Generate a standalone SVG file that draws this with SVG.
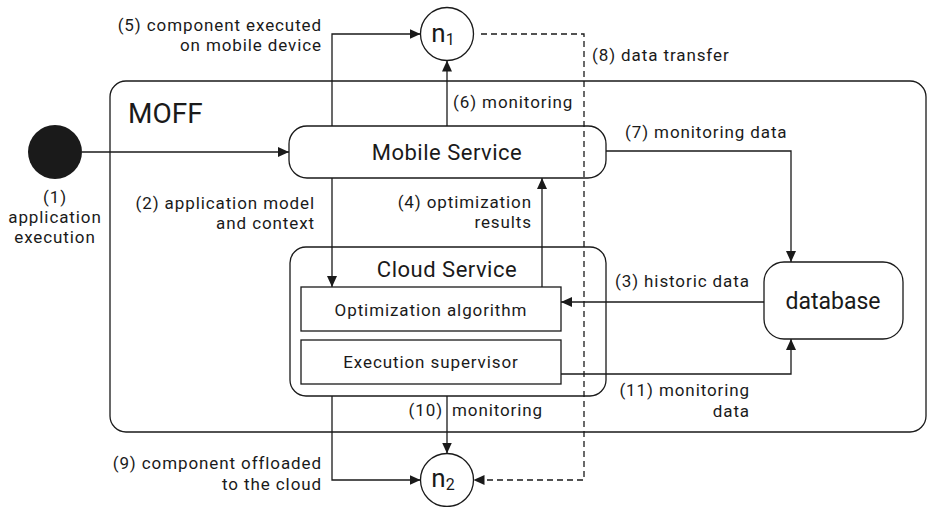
<svg xmlns="http://www.w3.org/2000/svg" width="928" height="507" viewBox="0 0 928 507">
<defs>
<marker id="ah" markerUnits="userSpaceOnUse" markerWidth="12" markerHeight="10" refX="11" refY="5" orient="auto">
<path d="M0,0 L11,5 L0,10 Z" fill="#1a1a1a"/>
</marker>
<style>
.box{fill:#fff;stroke:#1a1a1a;stroke-width:1.3}
.ln{fill:none;stroke:#1a1a1a;stroke-width:1.3}
.dash{fill:none;stroke:#1a1a1a;stroke-width:1.3;stroke-dasharray:6,4}
text{font-family:Roboto,"Noto Sans",sans-serif;fill:#1a1a1a}
.lb{font-size:17px;letter-spacing:0.9px}
.nm{font-size:22px;letter-spacing:0.5px}
.r{text-anchor:end}
.c{text-anchor:middle}
</style>
</defs>
<rect width="928" height="507" fill="#fff"/>
<g id="moff">
<rect class="box" x="110" y="81" width="816" height="351" rx="16"/>
<text x="128" y="123" style="font-size:28px">MOFF</text>
</g>
<g id="start">
<circle cx="55" cy="152" r="27" fill="#1a1a1a"/>
<text class="lb c" x="55" y="203">(1)</text>
<text class="lb c" x="55" y="223">application</text>
<text class="lb c" x="55" y="243">execution</text>
</g>
<g id="mobile">
<rect class="box" x="289" y="126" width="317" height="52" rx="18"/>
<text class="nm c" x="447" y="160">Mobile Service</text>
</g>
<g id="cloud">
<rect class="box" x="290" y="247" width="316" height="149" rx="16"/>
<text class="nm c" x="447" y="277">Cloud Service</text>
<rect class="box" x="301" y="287" width="260" height="44"/>
<text class="lb c" x="431" y="316">Optimization algorithm</text>
<rect class="box" x="301" y="340" width="260" height="44"/>
<text class="lb c" x="431" y="368">Execution supervisor</text>
</g>
<g id="database">
<rect class="box" x="764" y="262" width="139" height="77" rx="20"/>
<text class="c" x="833" y="309" style="font-size:23px">database</text>
</g>
<g id="n1">
<circle class="box" cx="447" cy="34" r="26.5"/>
<text class="c" x="443" y="42" style="font-size:26px">n<tspan style="font-size:16px" dy="3">1</tspan></text>
</g>
<g id="n2">
<circle class="box" cx="447" cy="480" r="26.5"/>
<text class="c" x="443" y="487" style="font-size:26px">n<tspan style="font-size:16px" dy="3">2</tspan></text>
</g>
<g id="connectors">
<path class="ln" d="M82,152 H289" marker-end="url(#ah)"/>
<path class="ln" d="M332,126 V34 H420.5" marker-end="url(#ah)"/>
<path class="ln" d="M447,126 V60.5" marker-end="url(#ah)"/>
<path class="dash" d="M481,34 H584 V480 H473.5" marker-end="url(#ah)"/>
<path class="ln" d="M606,151 H791 V262" marker-end="url(#ah)"/>
<path class="ln" d="M332,178 V287" marker-end="url(#ah)"/>
<path class="ln" d="M542,287 V178" marker-end="url(#ah)"/>
<path class="ln" d="M764,302 H561" marker-end="url(#ah)"/>
<path class="ln" d="M561,374 H791 V339" marker-end="url(#ah)"/>
<path class="ln" d="M332,396 V480 H420.5" marker-end="url(#ah)"/>
<path class="ln" d="M447,396 V453.5" marker-end="url(#ah)"/>
</g>
<g id="labels">
<text class="lb r" x="322" y="31">(5) component executed</text>
<text class="lb r" x="322" y="51">on mobile device</text>
<text class="lb" x="592" y="61">(8) data transfer</text>
<text class="lb" x="453" y="108">(6) monitoring</text>
<text class="lb" x="625" y="138">(7) monitoring data</text>
<text class="lb r" x="315" y="209">(2) application model</text>
<text class="lb r" x="315" y="229">and context</text>
<text class="lb r" x="532" y="208">(4) optimization</text>
<text class="lb r" x="532" y="228">results</text>
<text class="lb" x="615" y="287">(3) historic data</text>
<text class="lb r" x="750" y="396">(11) monitoring</text>
<text class="lb r" x="750" y="417">data</text>
<text class="lb r" x="443" y="416">(10)</text>
<text class="lb" x="452" y="416">monitoring</text>
<text class="lb r" x="322" y="469">(9) component offloaded</text>
<text class="lb r" x="322" y="490">to the cloud</text>
</g>
</svg>
